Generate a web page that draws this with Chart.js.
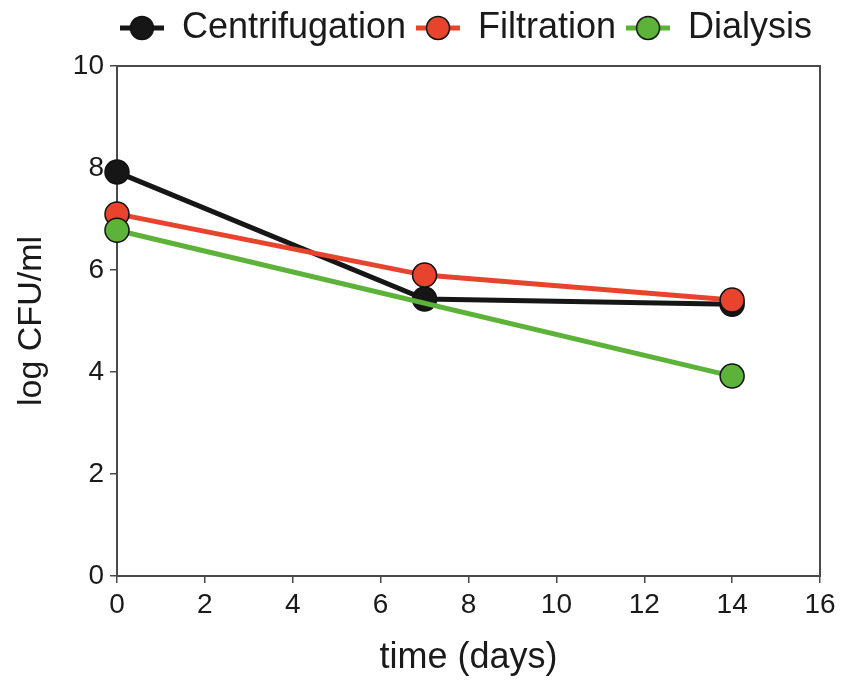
<!DOCTYPE html>
<html>
<head>
<meta charset="utf-8">
<title>log CFU/ml over time</title>
<script src="https://cdn.jsdelivr.net/npm/chart.js@4.4.1/dist/chart.umd.min.js"></script>
<style>
  body { margin: 0; background: #fff; }
  #wrap { width: 842px; height: 680px; }
</style>
</head>
<body>
<div id="wrap"><canvas id="myChart" width="842" height="680"></canvas></div>
<script>
'use strict';

// values
let seriesNames = ['Centrifugation', 'Filtration', 'Dialysis'];
let centrifugationDays = [0, 7, 14];
let centrifugationLog = [7.92, 5.43, 5.33];
let filtrationDays = [0, 7, 14];
let filtrationLog = [7.1, 5.9, 5.41];
let dialysisDays = [0, 14];
let dialysisLog = [6.78, 3.92];
let xTicks = [0, 2, 4, 6, 8, 10, 12, 14, 16];
let yTicks = [0, 2, 4, 6, 8, 10];

let colors = ['#161616', '#e8442d', '#5db239'];
let fontName = '"Liberation Sans", Arial, sans-serif';
let axisColor = '#4a4a4a';

function toPoints(days, values) {
  let pts = [];
  for (let i = 0; i < days.length; i++) {
    pts.push({ x: days[i], y: values[i] });
  }
  return pts;
}

// little line-with-circle icon for the legend
function legendIcon(color) {
  let c = document.createElement('canvas');
  c.width = 44;
  c.height = 28;
  let g = c.getContext('2d');
  g.strokeStyle = color;
  g.lineWidth = 5;
  g.beginPath();
  g.moveTo(0, 14);
  g.lineTo(44, 14);
  g.stroke();
  g.beginPath();
  g.arc(22, 14, 11.5, 0, Math.PI * 2);
  g.fillStyle = color;
  g.fill();
  g.lineWidth = 1.5;
  g.strokeStyle = '#111';
  g.stroke();
  return c;
}

function makeDataset(i, days, values) {
  return {
    label: seriesNames[i],
    data: toPoints(days, values),
    borderColor: colors[i],
    backgroundColor: colors[i],
    borderWidth: 5,
    pointRadius: 12,
    pointBorderWidth: 1.5,
    pointBorderColor: '#111',
    pointBackgroundColor: colors[i],
    pointStyle: 'circle',
    legendIcon: legendIcon(colors[i]),
    tension: 0,
    clip: false,
    order: 3 - i
  };
}

// box around the plot area, drawn under the marks
let frame = {
  id: 'frame',
  beforeDatasetsDraw(chart) {
    let a = chart.chartArea;
    let ctx = chart.ctx;
    ctx.save();
    ctx.strokeStyle = axisColor;
    ctx.lineWidth = 2;
    ctx.strokeRect(a.left, a.top, a.right - a.left, a.bottom - a.top);
    ctx.restore();
  }
};

// keep the legend on one row, fixed height, centred over the plot
let legendBox = {
  id: 'legendBox',
  afterInit(chart) {
    let lg = chart.legend;
    let origFit = lg.fit;
    lg.fit = function () {
      this.maxWidth = 842;
      origFit.call(this);
      this.height = 66;
    };
  },
  afterLayout(chart) {
    let lg = chart.legend;
    lg.left = 96;
    lg.right = 836;
    lg.width = lg.right - lg.left;
  }
};

let ctx = document.getElementById('myChart');
let myChart = new Chart(ctx, {
  type: 'line',
  data: {
    datasets: [
      makeDataset(0, centrifugationDays, centrifugationLog),
      makeDataset(1, filtrationDays, filtrationLog),
      makeDataset(2, dialysisDays, dialysisLog)
    ]
  },
  options: {
    responsive: false,
    animation: false,
    layout: { padding: { top: 0, right: 22, bottom: 0, left: 0 } },
    plugins: {
      tooltip: { enabled: false },
      legend: {
        position: 'top',
        fullSize: false,
        labels: {
          usePointStyle: true,
          pointStyleWidth: 44,
          padding: 10,
          color: '#1a1a1a',
          font: { family: fontName, size: 36 },
          sort: (a, b) => a.datasetIndex - b.datasetIndex,
          generateLabels(chart) {
            return chart.data.datasets.map((ds, i) => ({
              text: ds.label,
              pointStyle: ds.legendIcon,
              fillStyle: ds.backgroundColor,
              strokeStyle: ds.borderColor,
              lineWidth: 0,
              fontColor: '#1a1a1a',
              hidden: false,
              datasetIndex: i
            }));
          }
        }
      }
    },
    scales: {
      x: {
        type: 'linear',
        min: 0,
        max: 16,
        afterFit(scale) { scale.height = 104; },
        afterBuildTicks(scale) { scale.ticks = xTicks.map(v => ({ value: v })); },
        border: { display: true, color: axisColor, width: 2 },
        grid: { display: true, drawOnChartArea: false, drawTicks: true, tickLength: 7, color: axisColor, lineWidth: 1.5 },
        ticks: { color: '#1a1a1a', padding: 5, font: { family: fontName, size: 28 } },
        title: {
          display: true,
          text: 'time (days)',
          color: '#1a1a1a',
          padding: { top: 0, bottom: 0 },
          font: { family: fontName, size: 36 }
        }
      },
      y: {
        type: 'linear',
        min: 0,
        max: 10,
        afterFit(scale) { scale.width = 117; },
        afterBuildTicks(scale) { scale.ticks = yTicks.map(v => ({ value: v })); },
        border: { display: true, color: axisColor, width: 2 },
        grid: { display: true, drawOnChartArea: false, drawTicks: true, tickLength: 7, color: axisColor, lineWidth: 1.5 },
        ticks: { color: '#1a1a1a', padding: 6, font: { family: fontName, size: 28 } },
        title: {
          display: true,
          text: 'log CFU/ml',
          color: '#1a1a1a',
          padding: { top: 11, bottom: 0 },
          font: { family: fontName, size: 34 }
        }
      }
    }
  },
  plugins: [frame, legendBox]
});
</script>
</body>
</html>
